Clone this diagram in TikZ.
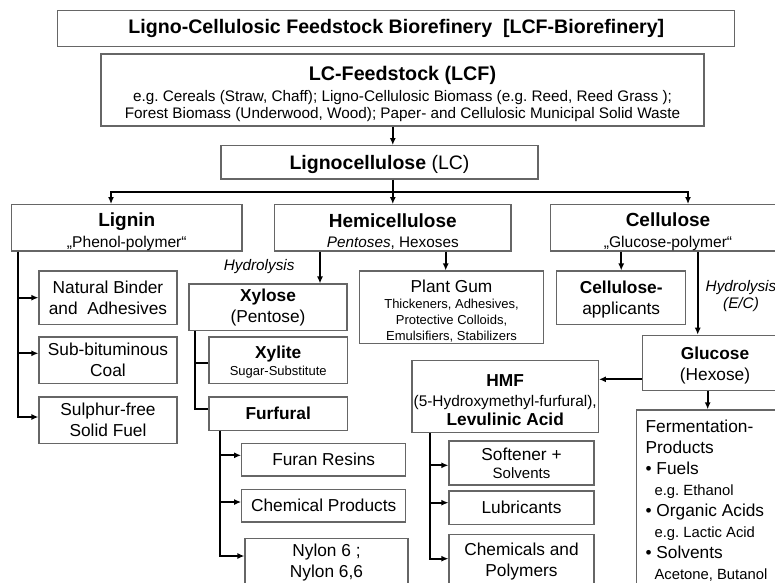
\documentclass[tikz,border=0pt]{standalone}
\usepackage{fontspec}
\setmainfont{Liberation Sans}
\usetikzlibrary{arrows.meta,calc}
\frenchspacing

\newcommand{\fsmall}{\fontsize{13}{16}\selectfont}
\newcommand{\fmid}{\fontsize{15.3}{17}\selectfont}
\newcommand{\fbody}{\fontsize{17.3}{21}\selectfont}
\newcommand{\fhead}{\fontsize{19}{20.5}\selectfont\bfseries\rule{0pt}{21.5pt}}
\newcommand{\fnote}{\fontsize{14.8}{21}\selectfont}

\begin{document}
\begin{tikzpicture}[x=1pt, y=-1pt, >={Latex[length=7pt,width=6pt]},
    box/.style={draw=black!60, line width=1.2pt, inner sep=0pt, align=center, font=\fbody},
    link/.style={line width=2pt},
    hyd/.style={font=\fontsize{15.3}{17.6}\selectfont\itshape, inner sep=0pt, align=center}]
  \useasboundingbox (0,0) rectangle (775,582);
  \clip (0,0) rectangle (775,582);

  % top of the tree
  \node[box, minimum width=677pt, minimum height=36pt, font=\fontsize{19.6}{22}\selectfont\bfseries] (title) at (396.3,28.7) {Ligno-Cellulosic Feedstock Biorefinery~~[LCF-Biorefinery]};
  \node[box, minimum width=603pt, minimum height=72pt, font=\fmid] (lcf) at (402.5,90)
    {{\fontsize{19.7}{22}\selectfont\bfseries\rule{0pt}{21.4pt}LC-Feedstock (LCF)}\\[3.9pt]
     e.g. Cereals (Straw, Chaff); Ligno-Cellulosic Biomass (e.g. Reed, Reed Grass );\\
     Forest Biomass (Underwood, Wood); Paper- and Cellulosic Municipal Solid Waste};
  \node[box, minimum width=317pt, minimum height=33.3pt, font=\fontsize{19.5}{22}\selectfont] (lc) at (379.5,162.3) {\rule{0pt}{19.5pt}\textbf{Lignocellulose} (LC)};

  % the three fractions
  \node[box, minimum width=230.3pt, minimum height=46.3pt, font=\fontsize{15.6}{20.5}\selectfont] (lignin) at (126.8,227.8) {{\fhead Lignin}\\„Phenol-polymer“};
  \node[box, minimum width=236.3pt, minimum height=46.3pt, font=\fontsize{15.3}{20.5}\selectfont] (hemi) at (392.8,227.8) {{\fhead Hemicellulose}\\\textit{Pentoses}, Hexoses};
  \node[box, minimum width=234.6pt, minimum height=46.3pt, font=\fontsize{15.6}{20.5}\selectfont] (cellu) at (668,227.8) {{\fhead Cellulose}\\„Glucose-polymer“};

  % lignin products
  \node[box, minimum width=138pt, minimum height=53.3pt] (binder) at (108,297.7) {Natural Binder\\and~~Adhesives};
  \node[box, minimum width=138pt, minimum height=46.7pt] (coal) at (108,360.3) {Sub-bituminous\\Coal};
  \node[box, minimum width=138pt, minimum height=46.3pt] (fuel) at (108,420.2) {Sulphur-free\\Solid Fuel};

  % hemicellulose products
  \node[box, minimum width=158pt, minimum height=46.3pt] (xylose) at (268,307.2) {\textbf{Xylose}\\(Pentose)};
  \node[box, minimum width=138.3pt, minimum height=46.7pt] (xylite) at (278.2,360.3) {\rule{0pt}{16.6pt}\textbf{Xylite}\\[-4pt]{\fsmall Sugar-Substitute}};
  \node[box, minimum width=138.3pt, minimum height=33.3pt] (furfural) at (278.2,413.7) {\textbf{Furfural}};
  \node[box, minimum width=164pt, minimum height=32.7pt] (furan) at (323.7,459.7) {Furan Resins};
  \node[box, minimum width=164pt, minimum height=32.7pt] (chemprod) at (323.7,505.7) {Chemical Products};
  \node[box, minimum width=163pt, minimum height=47.7pt] (nylon) at (326.5,562.2) {Nylon 6 ;\\Nylon 6,6};
  \node[box, minimum width=183.6pt, minimum height=72.3pt, font=\fsmall] (plantgum) at (451.5,307.2)
    {{\fbody\rule{0pt}{19.6pt}Plant Gum}\\Thickeners, Adhesives,\\Protective Colloids,\\Emulsifiers, Stabilizers};

  % cellulose products
  \node[box, minimum width=129pt, minimum height=53.3pt] (capp) at (621.2,297.7) {\rule{0pt}{16.6pt}\textbf{Cellulose-}\\applicants};
  \node[box, minimum width=144.6pt, minimum height=55pt] (glucose) at (715,362.8) {\rule{0pt}{17.6pt}\textbf{Glucose}\\(Hexose)};
  \node[box, minimum width=186.3pt, minimum height=72.4pt, font=\fontsize{17.3}{19.4}\selectfont] (hmf) at (505.2,396.5)
    {\rule{0pt}{19.4pt}\textbf{HMF}\\{\fontsize{15.4}{17}\selectfont(5-Hydroxymethyl-furfural),}\\\textbf{Levulinic Acid}};
  \node[box, minimum width=145pt, minimum height=44pt] (soft) at (521.5,463) {Softener +\\[-2.8pt]{\fontsize{15}{17}\selectfont Solvents}};
  \node[box, minimum width=145pt, minimum height=33.3pt] (lub) at (521.5,507.7) {Lubricants};
  \node[box, minimum width=145pt, minimum height=53.7pt] (chempol) at (521.5,561.2) {Chemicals and\\Polymers};
  \node[box, anchor=north west, minimum width=164pt, text width=146pt, align=left, inner xsep=9pt, inner ysep=10pt] (ferm) at (636,409.3)
    {\spaceskip=0pt\xspaceskip=0pt\relax
     Fermentation-\\Products\\%
     \textbullet\ Fuels\\\hspace*{9pt}{\fnote e.g. Ethanol}\\%
     \textbullet\ Organic Acids\\\hspace*{9pt}{\fnote e.g. Lactic Acid}\\%
     \textbullet\ Solvents\\\hspace*{9pt}{\fnote Acetone, Butanol}};

  \node[hyd, anchor=east] (hydxyl) at (294.7,266.5) {Hydrolysis};
  \node[hyd] (hydglc) at (741,296) {Hydrolysis\\(E/C)};

  % connectors
  \coordinate (bus) at (392.8,191.7);
  \draw[link,->] (lcf.south -| hemi.north) -- (lc.north -| hemi.north);
  \draw[link] (lc.south -| bus) -- (bus);
  \draw[link,->] (bus) -| ([xshift=-15.8pt]lignin.north);
  \draw[link,->] (bus) -- (hemi.north);
  \draw[link,->] (bus) -| ([xshift=20pt]cellu.north);

  \draw[link,->] ([xshift=7.3pt]lignin.south west) |- (binder.west);
  \draw[link,->] ([xshift=7.3pt]lignin.south west) |- ([yshift=7pt]coal.west);
  \draw[link,->] ([xshift=7.3pt]lignin.south west) |- ([yshift=3.2pt]fuel.west);

  \draw[link,->] ([xshift=-72.8pt]hemi.south) -- ([xshift=-72.8pt]hemi.south |- xylose.north);
  \draw[link,->] ([xshift=52.9pt]hemi.south) -- ([xshift=52.9pt]hemi.south |- plantgum.north);
  \draw[link] ([xshift=7pt]xylose.south west) |- ([yshift=-3pt]xylite.west);
  \draw[link] ([xshift=7pt]xylose.south west) |- ([yshift=4.4pt]furfural.west);
  \draw[link,->] ([xshift=12pt]furfural.south west) |- ([yshift=4.4pt]furan.west);
  \draw[link,->] ([xshift=12pt]furfural.south west) |- ([yshift=3.7pt]chemprod.west);
  \draw[link,->] ([xshift=12pt]furfural.south west) |- ([yshift=6.2pt]nylon.west);

  \draw[link,->] (capp.north |- cellu.south) -- (capp.north);
  \draw[link,->] ([xshift=-17.3pt]glucose.north |- cellu.south) -- ([xshift=-17.3pt]glucose.north);
  \draw[link,->] ([yshift=-16.5pt]glucose.west) -- ([yshift=-16.5pt]glucose.west -| hmf.east);
  \draw[link,->] ([xshift=-7.3pt]glucose.south) -- ([xshift=-7.3pt]glucose.south |- ferm.north);
  \draw[link,->] ([xshift=18.7pt]hmf.south west) |- ([yshift=-2.3pt]soft.west);
  \draw[link,->] ([xshift=18.7pt]hmf.south west) |- ([yshift=5pt]lub.west);
  \draw[link,->] ([xshift=18.7pt]hmf.south west) |- ([yshift=2.5pt]chempol.west);
\end{tikzpicture}
\end{document}
